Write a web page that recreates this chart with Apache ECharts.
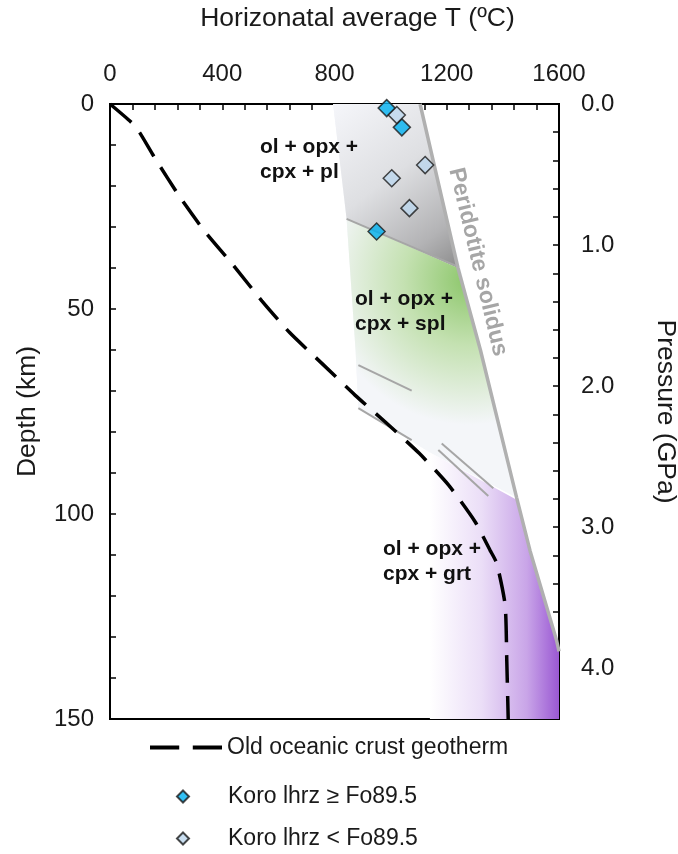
<!DOCTYPE html>
<html><head><meta charset="utf-8">
<script src="https://cdn.jsdelivr.net/npm/echarts@6/dist/echarts.min.js"></script>
<style>html,body{margin:0;padding:0;background:#fff;overflow:hidden}#c{width:678px;height:854px}</style>
</head><body><div id="c"></div>
<script>
// ---- data (T in °C, depth in km) ----
const geotherm = [[0,0],[78,4.6],[107,7.1],[160,13.2],[249,22.7],[339,31.2],[439,39.3],[541,48],[641,55.8],[754,63.2],[873,71],[980,77.5],[1102,85.2],[1206,92.9],[1301,101.9],[1354,108.8],[1378,112],[1408,122.2],[1414,136],[1419,150]];
const solidus = [[1105,0],[1240,40],[1320,60],[1449,96],[1497,109],[1592,131],[1600,133.5]];
const koroHigh = [[986,1.0],[1040,5.7],[950,31.1]];
const koroLow = [[1022,2.7],[1123,14.9],[1004,18.1],[1067,25.4]];
const plSplBoundary = [[843,28],[1238,39.6]];
const spGtLineA = [[885,63.7],[1075,69.9]];
const spGtLineB = [[885,74.2],[1075,82]];
const spGtLineC = [[1182,82.8],[1366,93.7]];
const spGtLineD = [[1170,84.4],[1348,95.6]];
const lightZone = [[795,0],[1105,0],[1449,96],[1140,85],[885,74],[875,60],[843,28]];
const plZone = [[795,0],[1105,0],[1240,40],[843,28]];
const splZone = [[843,28],[1240,40],[1320,60],[1449,96],[1140,85],[885,74],[875,60]];
const grtZone = [[1140,85],[1449,96.5],[1497,109],[1600,133.5],[1600,150],[1140,150]];
const tempRange = [0,1600], depthRange = [0,150], pressureMax = 4.36;
const tempLabels = [0,400,800,1200,1600];
const depthLabels = [0,50,100,150];
const pressureLabels = [0,1,2,3,4];
const seriesNames = ['Old oceanic crust geotherm','Koro lhrz ≥ Fo89.5','Koro lhrz < Fo89.5'];

const chart = echarts.init(document.getElementById('c'), null, {renderer:'canvas'});
const G = echarts.graphic;
function zone(name, pts, fillFn, z){
  return {type:'custom', name:name, coordinateSystem:'cartesian2d', xAxisIndex:0, yAxisIndex:0,
    silent:true, z:z, data:[0], clip:true,
    renderItem:function(p, api){
      return {type:'polygon', shape:{points:pts.map(q=>api.coord(q))}, style:{fill:fillFn()}, silent:true};
    }};
}
function gline(name, pts, color, w, z){
  return {type:'line', name:name, data:pts, showSymbol:false, symbol:'none', silent:true, z:z,
    lineStyle:{color:color, width:w}, legendHoverLink:false};
}
const font = 'Arial, "Liberation Sans", sans-serif';
const txt = {fontSize:24, color:'#1a1a1a', fontFamily:font};
const diamondIcon = 'path://M0,-10L10,0L0,10L-10,0Z';
const legendText = {fontSize:23, color:'#1a1a1a', fontFamily:font};
const option = {
  animation:false,
  textStyle:{fontFamily:font},
  grid:{left:110, top:104, right:119, bottom:135, show:true, borderColor:'#000', borderWidth:2,
    backgroundColor:'transparent', containLabel:false, outerBoundsMode:'none'},
  xAxis:[{type:'value', position:'top', min:tempRange[0], max:tempRange[1], interval:80,
    name:'Horizonatal average T (ºC)', nameLocation:'middle', nameGap:72,
    nameTextStyle:Object.assign({}, txt, {fontSize:26.5, padding:[0,0,0,46]}),
    axisLine:{show:true, lineStyle:{color:'#000', width:2}},
    axisTick:{show:true, inside:true, length:6, lineStyle:{color:'#000', width:1.5}},
    splitLine:{show:false},
    axisLabel:Object.assign({}, txt, {margin:18,
      formatter:v=> tempLabels.indexOf(Math.round(v))>=0 ? String(Math.round(v)) : ''})}],
  yAxis:[{type:'value', inverse:true, min:depthRange[0], max:depthRange[1], interval:10,
    name:'Depth (km)', nameLocation:'middle', nameGap:69, nameRotate:90,
    nameTextStyle:Object.assign({}, txt, {fontSize:26.5}),
    axisLine:{show:true, lineStyle:{color:'#000', width:2}},
    axisTick:{show:true, inside:true, length:6, lineStyle:{color:'#000', width:1.5}},
    splitLine:{show:false},
    axisLabel:Object.assign({}, txt, {margin:16,
      formatter:v=> depthLabels.indexOf(Math.round(v))>=0 ? String(Math.round(v)) : ''})},
   {type:'value', inverse:true, position:'right', min:0, max:pressureMax, interval:0.2,
    name:'Pressure (GPa)', nameLocation:'middle', nameGap:93, nameRotate:-90,
    nameTextStyle:Object.assign({}, txt, {fontSize:26.5}),
    axisLine:{show:true, lineStyle:{color:'#000', width:2}},
    axisTick:{show:true, inside:true, length:6, lineStyle:{color:'#000', width:1.5}},
    splitLine:{show:false},
    axisLabel:Object.assign({}, txt, {margin:22, showMaxLabel:false,
      formatter:v=>{const r=Math.round(v); return (Math.abs(v-r)<1e-6 && pressureLabels.indexOf(r)>=0) ? r.toFixed(1) : '';}})}],
  legend:[
    {orient:'vertical', left:150, top:736, padding:0, itemWidth:72, itemHeight:4, symbolKeepAspect:false,
      selectedMode:false, textStyle:legendText,
      data:[{name:seriesNames[0], icon:'path://M0,0H28V4H0Z M41,0H69V4H41Z'}]},
    {orient:'vertical', left:176, top:785, padding:0, itemWidth:12, itemHeight:12, selectedMode:false,
      textStyle:Object.assign({}, legendText, {padding:[0,0,0,34]}),
      data:[{name:seriesNames[1], icon:diamondIcon}]},
    {orient:'vertical', left:176, top:827, padding:0, itemWidth:12, itemHeight:12, selectedMode:false,
      textStyle:Object.assign({}, legendText, {padding:[0,0,0,34]}),
      data:[{name:seriesNames[2], icon:diamondIcon}]}
  ],
  series:[
    zone('light', lightZone, ()=>'#f4f6fa', 1),
    zone('pl', plZone, ()=>new G.LinearGradient(0,0,1,1,[{offset:0,color:'#f5f6fa'},{offset:0.45,color:'#dedfe2'},{offset:0.8,color:'#b3b3b5'},{offset:1,color:'#8c8c8c'}]), 2),
    zone('spl', splZone, ()=>new G.RadialGradient(0.72,0.22,0.85,[{offset:0,color:'#8cc66a'},{offset:0.45,color:'#c4e1b1'},{offset:1,color:'#f4f6f9'}]), 2),
    zone('grt', grtZone, ()=>new G.LinearGradient(0,0,1,0,[{offset:0,color:'#ffffff'},{offset:0.4,color:'#ebdef7'},{offset:0.75,color:'#c9a5e8'},{offset:1,color:'#9a58d3'}]), 2),
    gline('b1', plSplBoundary, '#a6a6a6', 2, 3),
    gline('b2', spGtLineA, '#a6a6a6', 2, 3),
    gline('b3', spGtLineB, '#a6a6a6', 2, 3),
    gline('b4', spGtLineC, '#a6a6a6', 2, 3),
    gline('b5', spGtLineD, '#a6a6a6', 2, 3),
    gline('solidus', solidus, '#b0b0b0', 3.5, 4),
    {type:'line', name:seriesNames[0], data:geotherm, showSymbol:false, symbol:'none', smooth:0.2, z:5,
      lineStyle:{color:'#000', width:3.5, type:[28,13]}, itemStyle:{color:'#000'}},
    {type:'scatter', name:seriesNames[1], data:koroHigh, symbol:'diamond', symbolSize:17, z:6,
      itemStyle:{color:'#00b0f0', borderColor:'#1a1a1a', borderWidth:1.5}},
    {type:'scatter', name:seriesNames[2], data:koroLow, symbol:'diamond', symbolSize:17, z:6,
      itemStyle:{color:'#bdd7ee', borderColor:'#1a1a1a', borderWidth:1.5}}
  ],
  graphic:[
    {type:'text', left:260, top:135, z:10, style:{text:'ol + opx +\ncpx + pl', font:'bold 21px '+font, fill:'#111', lineHeight:25}},
    {type:'text', left:355, top:287, z:10, style:{text:'ol + opx +\ncpx + spl', font:'bold 21px '+font, fill:'#111', lineHeight:25}},
    {type:'text', left:383, top:537, z:10, style:{text:'ol + opx +\ncpx + grt', font:'bold 21px '+font, fill:'#111', lineHeight:25}},
    {type:'text', x:478, y:262, rotation:-76.5*Math.PI/180, z:10,
      style:{text:'Peridotite solidus', font:'bold 23px '+font, fill:'#a6a6a6', align:'center', verticalAlign:'middle'}}
  ]
};
chart.setOption(option);
</script></body></html>
